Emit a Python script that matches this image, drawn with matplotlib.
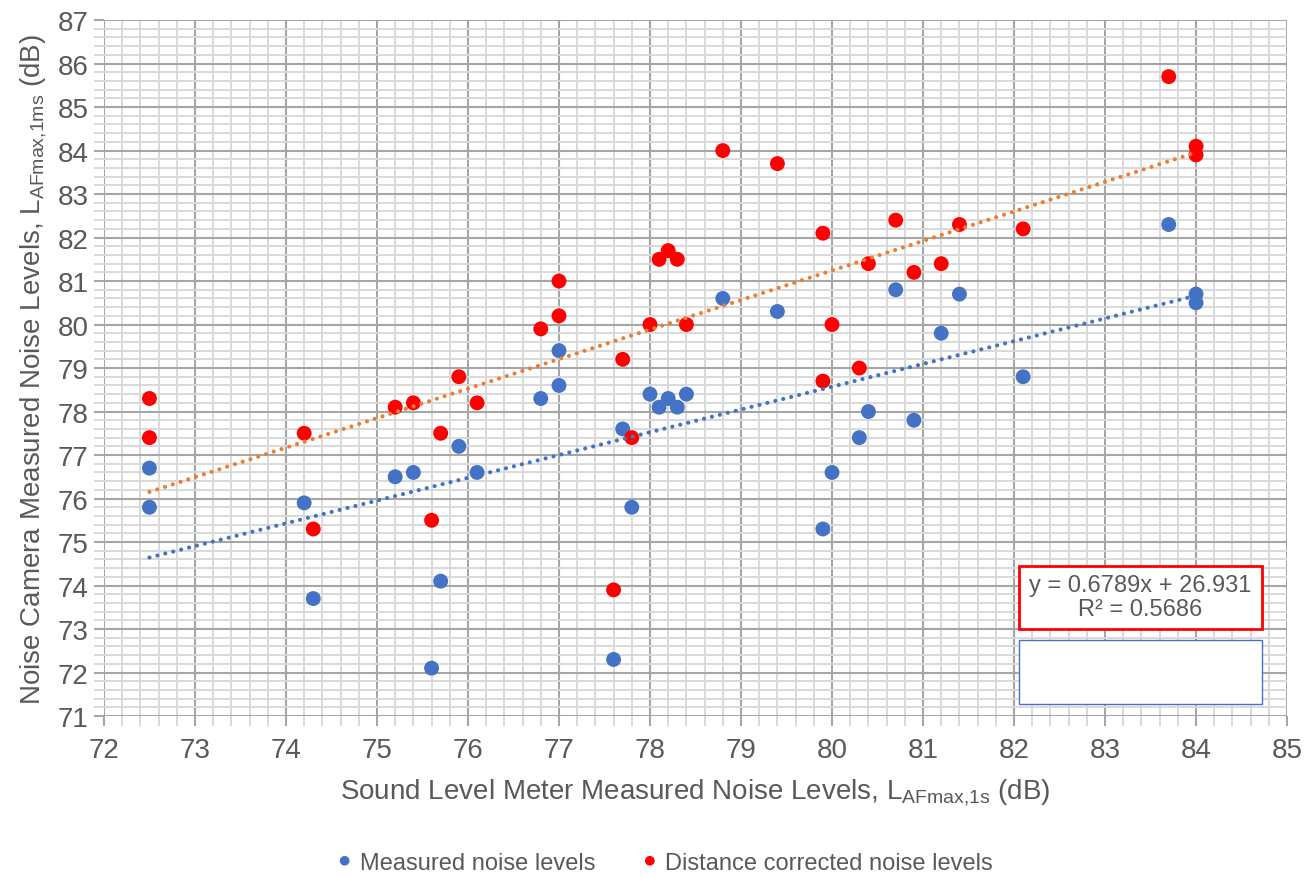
"""Noise camera vs sound level meter scatter, with linear trendlines."""
import numpy as np
import matplotlib
matplotlib.use("Agg")
import matplotlib.pyplot as plt
from matplotlib.patches import Rectangle
from matplotlib.ticker import MultipleLocator

plt.rcParams.update({
    "font.family": "Liberation Sans", "mathtext.fontset": "custom",
    "mathtext.rm": "Liberation Sans", "mathtext.it": "Liberation Sans",
})
GREY = "#595959"
BLUE, RED, ORANGE = "#4472C4", "#FF0000", "#ED7D31"

# sound level meter L_AFmax,1s (dB)
slm_blue = [72.5, 72.5, 74.2, 74.3, 75.2, 75.4, 75.6, 75.7, 75.9, 76.1, 76.8, 77.0,
            77.0, 77.6, 77.7, 77.8, 78.0, 78.1, 78.2, 78.3, 78.4, 78.8, 79.4, 79.9,
            80.0, 80.3, 80.4, 80.7, 80.9, 81.2, 81.4, 82.1, 83.7, 84.0, 84.0]
measured = [76.7, 75.8, 75.9, 73.7, 76.5, 76.6, 72.1, 74.1, 77.2, 76.6, 78.3, 79.4,
            78.6, 72.3, 77.6, 75.8, 78.4, 78.1, 78.3, 78.1, 78.4, 80.6, 80.3, 75.3,
            76.6, 77.4, 78.0, 80.8, 77.8, 79.8, 80.7, 78.8, 82.3, 80.7, 80.5]
slm_red = [72.5, 72.5, 74.2, 74.3, 75.2, 75.4, 75.6, 75.7, 75.9, 76.1, 76.8, 77.0,
           77.0, 77.6, 77.7, 77.8, 78.0, 78.1, 78.2, 78.3, 78.4, 78.8, 79.4, 79.9,
           79.9, 80.0, 80.3, 80.4, 80.7, 80.9, 81.2, 81.4, 82.1, 83.7, 84.0, 84.0]
corrected = [78.3, 77.4, 77.5, 75.3, 78.1, 78.2, 75.5, 77.5, 78.8, 78.2, 79.9, 81.0,
             80.2, 73.9, 79.2, 77.4, 80.0, 81.5, 81.7, 81.5, 80.0, 84.0, 83.7, 82.1,
             78.7, 80.0, 79.0, 81.4, 82.4, 81.2, 81.4, 82.3, 82.2, 85.7, 84.1, 83.9]

# trendline of the corrected series, as printed on the chart
slope, intercept, r2 = 0.6789, 26.931, 0.5686

fig = plt.figure(figsize=(13.14, 8.79), dpi=100)
ax = fig.add_axes([0.0791, 0.1843, 0.9004, 0.7917])

ax.set_xlim(72, 85); ax.set_ylim(71, 87)
ax.xaxis.set_major_locator(MultipleLocator(1)); ax.xaxis.set_minor_locator(MultipleLocator(0.2))
ax.yaxis.set_major_locator(MultipleLocator(1)); ax.yaxis.set_minor_locator(MultipleLocator(0.2))
ax.grid(which="minor", color="#D9D9D9", lw=1.4, zorder=0)
ax.grid(which="major", color="#A6A6A6", lw=1.5, zorder=0)
ax.set_axisbelow(True)
for s in ax.spines.values():
    s.set_visible(False)
ax.tick_params(which="both", direction="out", labelsize=20, labelcolor=GREY, pad=4)
ax.tick_params(which="major", color="#A6A6A6", length=7, width=1.5)
ax.tick_params(which="minor", color="#D9D9D9", length=7, width=1.4)
ax.tick_params(axis="x", which="both", pad=8)

ax.scatter(slm_blue, measured, s=115, color=BLUE, edgecolor="none", zorder=3,
           label="Measured noise levels")
ax.scatter(slm_red, corrected, s=115, color=RED, edgecolor="none", zorder=3,
           label="Distance corrected noise levels")

# round-dot trendlines
dots = dict(lw=3.0, dashes=(0.01, 1.95), dash_capstyle="round", zorder=4)
xs = np.array([min(slm_blue), max(slm_blue)])
b_slope, b_int = np.polyfit(slm_blue, measured, 1)
ax.plot(xs, b_slope * xs + b_int, color=BLUE, **dots)
xr = np.array([min(slm_red), max(slm_red)])
ax.plot(xr, slope * xr + intercept, color=ORANGE, **dots)

ax.set_xlabel(r"Sound Level Meter Measured Noise Levels, L$_{\mathregular{AFmax{,}1s}}$ (dB)",
              fontsize=20, color=GREY, labelpad=10)
ax.set_ylabel(r"Noise Camera Measured Noise Levels, L$_{\mathregular{AFmax{,}1ms}}$ (dB)",
              fontsize=20, color=GREY, labelpad=6)

# equation box and the empty box below it
ax.add_patch(Rectangle((0.7735, 0.125), 0.2055, 0.0905, transform=ax.transAxes,
                       facecolor="white", edgecolor=RED, lw=2, zorder=5))
ax.text(0.876, 0.171, f"y = {slope}x + {intercept}\nR² = {r2}", transform=ax.transAxes,
        ha="center", va="center", fontsize=17, color=GREY, linespacing=1.15, zorder=6)
ax.add_patch(Rectangle((0.7735, 0.0172), 0.2055, 0.0918, transform=ax.transAxes,
                       facecolor="white", edgecolor=BLUE, lw=1, zorder=5))

fig.legend(loc="center", bbox_to_anchor=(0.5, 0.017), ncol=2, frameon=False,
           fontsize=17, labelcolor=GREY, handletextpad=-0.35, columnspacing=1.3,
           markerscale=0.65, scatteryoffsets=[0.5])

fig.savefig("out.png", dpi=100)
